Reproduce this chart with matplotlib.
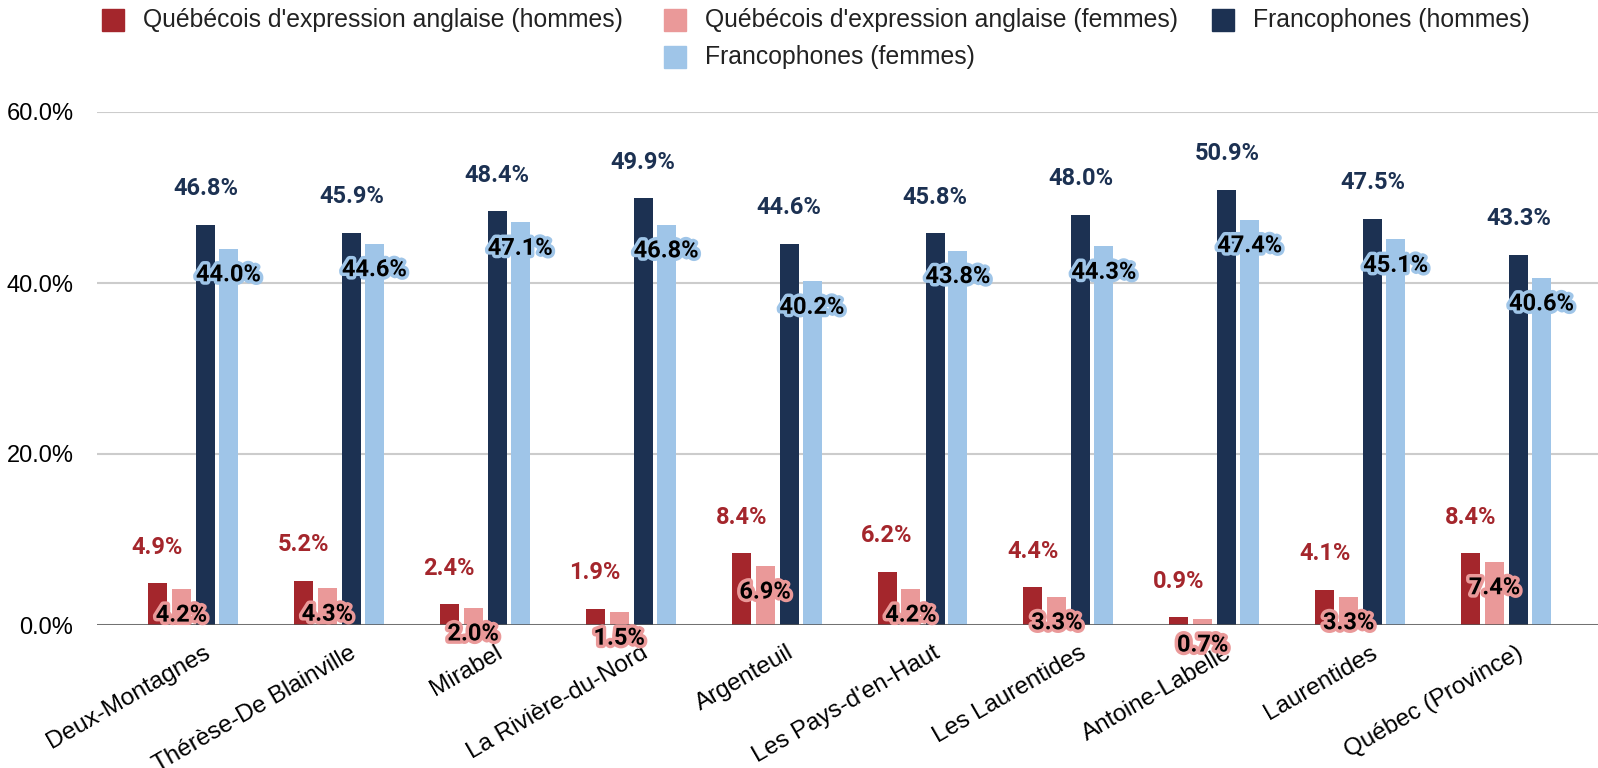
import matplotlib
matplotlib.use('Agg')
import matplotlib.pyplot as plt
import matplotlib.patheffects as pe
from matplotlib.patches import Rectangle
import numpy as np

# Data
categories = ['Deux-Montagnes', 'Thérèse-De Blainville', 'Mirabel', 'La Rivière-du-Nord',
              'Argenteuil', "Les Pays-d'en-Haut", 'Les Laurentides', 'Antoine-Labelle',
              'Laurentides', 'Québec (Province)']
anglo_hommes = [4.9, 5.2, 2.4, 1.9, 8.4, 6.2, 4.4, 0.9, 4.1, 8.4]
anglo_femmes = [4.2, 4.3, 2.0, 1.5, 6.9, 4.2, 3.3, 0.7, 3.3, 7.4]
franco_hommes = [46.8, 45.9, 48.4, 49.9, 44.6, 45.8, 48.0, 50.9, 47.5, 43.3]
franco_femmes = [44.0, 44.6, 47.1, 46.8, 40.2, 43.8, 44.3, 47.4, 45.1, 40.6]
series_names = ["Québécois d'expression anglaise (hommes)",
                "Québécois d'expression anglaise (femmes)",
                'Francophones (hommes)', 'Francophones (femmes)']
yticks = [0, 20, 40, 60]

colors = ['#a4262c', '#ea9999', '#1c3152', '#9fc5e8']

W, H = 1598, 768
fig = plt.figure(figsize=(W / 100, H / 100), dpi=100)
ax_left, ax_top, ax_bottom = 97, 112, 625
ax = fig.add_axes([ax_left / W, 1 - ax_bottom / H, (W - ax_left) / W, (ax_bottom - ax_top) / H])

x = np.arange(len(categories))
offsets = [-0.243, -0.079, 0.086, 0.243]
width = 0.13
all_series = [anglo_hommes, anglo_femmes, franco_hommes, franco_femmes]

for i, vals in enumerate(all_series):
    bars = ax.bar(x + offsets[i], vals, width=width, color=colors[i], zorder=3)
    for b, v in zip(bars, vals):
        cx = b.get_x() + b.get_width() / 2
        if i in (0, 2):
            ax.annotate(f'{v:.1f}%', (cx, v), xytext=(0, 36), textcoords='offset pixels',
                        ha='center', va='center', color=colors[i], fontsize=17,
                        family='Roboto', fontweight='semibold', zorder=5)
        else:
            ax.annotate(f'{v:.1f}%', (cx, v), xytext=(0, -26), textcoords='offset pixels',
                        ha='center', va='center', color='black', fontsize=17,
                        family='Roboto', fontweight='bold', zorder=6,
                        path_effects=[pe.withStroke(linewidth=5, foreground=colors[i])])

ax.set_xlim((97 - 193) / 145.9, (1598 - 193) / 145.9)
ax.set_ylim(0, 60)
ax.set_yticks(yticks)
ax.set_yticklabels([f'{t:.1f}%' for t in yticks], fontsize=17, family='Liberation Sans')
ax.tick_params(axis='y', length=0, pad=17)
ax.yaxis.grid(True, color='#cccccc', linewidth=1.5, zorder=0)
ax.set_axisbelow(True)
ax.axhline(0, color='#555555', linewidth=1.8, zorder=4)

ax.set_xticks(x + 0.07)
ax.set_xticklabels(categories, rotation=30, ha='right', rotation_mode='anchor',
                   fontsize=17.5, family='Liberation Sans')
ax.tick_params(axis='x', length=0, pad=12)

for s in ax.spines.values():
    s.set_visible(False)

# Legend drawn by hand to match the wrapped layout
legend_items = [(102, 20, 0), (664, 20, 1), (1212, 20, 2), (664, 57, 3)]
for px, py, k in legend_items:
    fig.patches.append(Rectangle((px / W, 1 - (py + 11) / H), 22 / W, 22 / H,
                                 transform=fig.transFigure, color=colors[k]))
    fig.text((px + 41) / W, 1 - py / H, series_names[k], fontsize=17.8,
             family='Liberation Sans', va='center', ha='left', color='#222222')

fig.savefig('out.png', dpi=100)
